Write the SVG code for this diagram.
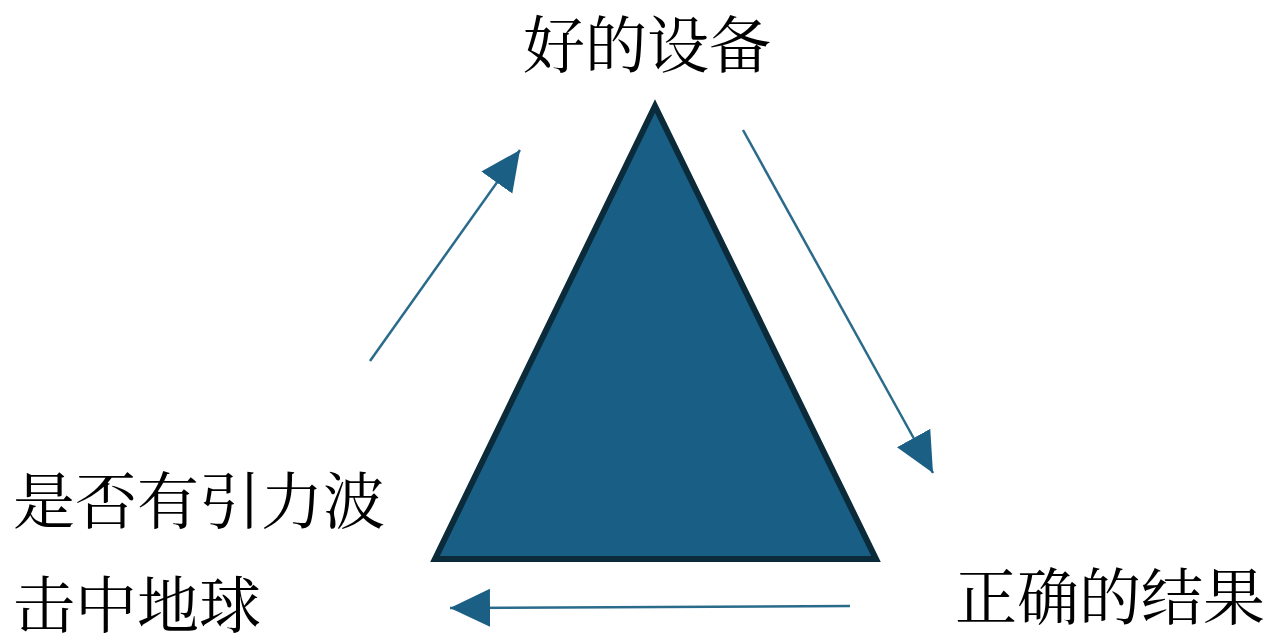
<svg xmlns="http://www.w3.org/2000/svg" width="1273" height="644" viewBox="0 0 1273 644">
<style>
.lbl{font-family:"Noto Serif CJK SC","Liberation Serif","Noto Sans CJK SC",serif;font-size:62px;fill:#000}
.conn{stroke:#2a6b8c;stroke-width:2.5;fill:none}
</style>
<defs>
<marker id="ah" markerUnits="userSpaceOnUse" markerWidth="42" markerHeight="40" refX="40" refY="19" orient="auto" viewBox="0 0 42 40">
<path d="M0,0 L40,19 L0,38 Z" fill="#1b5f84"/>
</marker>
</defs>
<rect width="1273" height="644" fill="#fff"/>
<g id="triangle">
<polygon points="655,106 435,559 876,559" fill="#185e85" stroke="#0b2a3a" stroke-width="6" stroke-linejoin="miter"/>
</g>
<g id="connectors">
<line class="conn" x1="370" y1="361" x2="520" y2="150" marker-end="url(#ah)"/>
<line class="conn" x1="743" y1="130" x2="933" y2="473" marker-end="url(#ah)"/>
<line class="conn" x1="850" y1="606" x2="450" y2="608" marker-end="url(#ah)"/>
</g>
<g id="label-top"><text class="lbl" x="523" y="68">好的设备</text></g>
<g id="label-left"><text class="lbl" x="13" y="524">是否有引力波</text><text class="lbl" x="13" y="628">击中地球</text></g>
<g id="label-right"><text class="lbl" x="955" y="620">正确的结果</text></g>
</svg>
